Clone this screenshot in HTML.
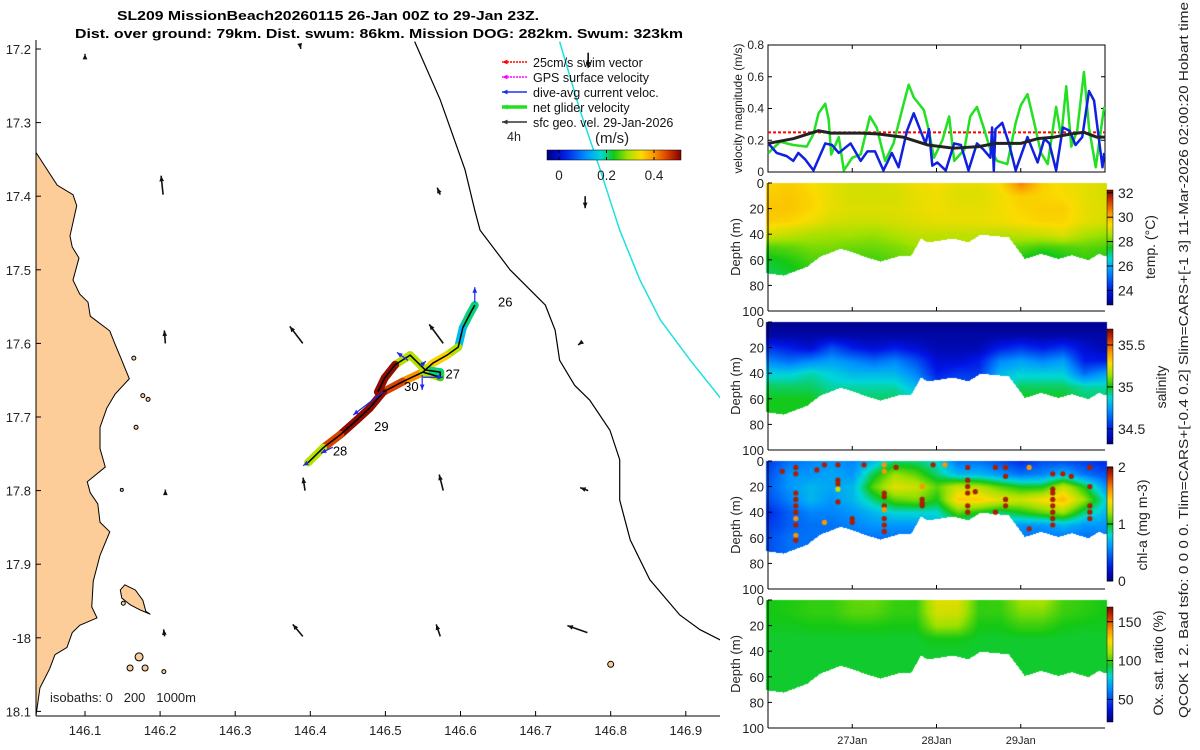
<!DOCTYPE html>
<html><head><meta charset="utf-8">
<style>
html,body{margin:0;padding:0;background:#fff;}
#wrap{position:relative;width:1200px;height:750px;overflow:hidden;font-family:"Liberation Sans",sans-serif;}
canvas,svg{position:absolute;left:0;top:0;}
</style></head>
<body>
<div id="wrap">
<canvas id="cv" width="1200" height="750"></canvas>
<svg id="sv" width="1200" height="750" xmlns="http://www.w3.org/2000/svg"></svg>
</div>
<script>
// ---------- DATA ----------
const greenT=[0.004,0.143,0.30,0.46,0.54,0.60,0.68,0.72,0.75,0.84,0.90,1.00,1.10,1.21,1.29,1.39,1.49,1.61,1.67,1.73,1.79,1.85,1.91,1.97,2.07,2.15,2.21,2.33,2.40,2.48,2.56,2.64,2.72,2.84,2.94,3.00,3.08,3.16,3.24,3.32,3.42,3.48,3.54,3.60,3.67,3.75,3.81,3.89,3.99];
const greenV=[0.12,0.19,0.17,0.16,0.24,0.37,0.43,0.33,0.11,0.22,0.01,0.09,0.11,0.35,0.28,0.07,0.18,0.43,0.55,0.47,0.43,0.39,0.26,0.09,0.20,0.35,0.07,0.14,0.35,0.41,0.28,0.14,0.07,0.05,0.31,0.42,0.49,0.31,0.12,0.05,0.41,0.22,0.54,0.16,0.26,0.63,0.28,0.03,0.41];
const blueT=[0.004,0.103,0.222,0.30,0.36,0.44,0.54,0.68,0.76,0.84,0.98,1.10,1.18,1.27,1.37,1.47,1.55,1.65,1.73,1.81,1.87,1.91,1.95,2.01,2.11,2.21,2.29,2.38,2.48,2.56,2.64,2.66,2.68,2.70,2.78,2.86,2.94,3.08,3.20,3.28,3.34,3.42,3.50,3.58,3.65,3.73,3.81,3.87,3.97,3.99];
const blueV=[0.18,0.12,0.10,0.07,0.12,0.08,0.01,0.18,0.17,0.12,0.18,0.07,0.13,0.13,0.01,0.12,0.03,0.26,0.37,0.26,0.18,0.27,0.04,0.06,0.01,0.18,0.17,0.01,0.18,0.14,0.09,0.28,0.01,0.27,0.31,0.18,0.01,0.22,0.06,0.21,0.18,0.01,0.28,0.26,0.17,0.22,0.51,0.45,0.03,0.12];
const blackT=[0,0.3,0.6,0.75,1.1,1.3,1.6,1.9,2.2,2.5,2.7,3.0,3.2,3.4,3.6,3.75,3.9,4.0];
const blackV=[0.18,0.21,0.26,0.245,0.245,0.24,0.22,0.17,0.15,0.16,0.18,0.18,0.21,0.22,0.24,0.25,0.22,0.22];
const swimRef=0.25;
const velTicks=[0,0.2,0.4,0.6,0.8];
const dayLabels=["27Jan","28Jan","29Jan"];
const dayVals=[1,2,3];
const gridT=[0,0.25,0.5,0.75,1,1.25,1.5,1.75,2,2.25,2.5,2.75,3,3.25,3.5,3.75,4];
const gridD=[0,10,20,30,40,50,60,70];
const tempG=[
[29.5,29.6,29.4,29.2,29.0,29.0,29.1,29.3,29.4,29.2,29.2,29.4,30.6,29.6,29.3,29.2,29.0],
[29.6,29.7,29.5,29.2,29.0,29.0,29.0,29.2,29.3,29.1,29.1,29.3,29.6,29.5,29.4,29.2,29.0],
[29.7,29.7,29.5,29.2,29.1,29.1,29.1,29.2,29.3,29.2,29.2,29.3,29.5,29.6,29.6,29.2,29.1],
[29.6,29.5,29.3,29.0,28.9,28.9,29.0,29.1,29.2,29.2,29.2,29.3,29.4,29.5,29.5,29.2,29.0],
[29.0,28.8,28.6,28.5,28.5,28.4,28.6,28.8,28.8,28.8,28.8,28.7,28.8,28.9,29.1,28.6,28.4],
[27.9,28.0,28.2,28.2,28.1,28.1,28.2,28.4,28.5,28.5,28.5,28.2,28.0,27.8,27.9,28.0,27.9],
[27.4,27.6,27.9,27.9,27.8,27.8,28.0,28.2,28.3,28.3,28.3,28.0,27.5,27.1,27.5,27.7,27.6],
[27.2,27.4,27.6,27.6,27.6,27.6,27.8,28.0,28.1,28.1,28.1,27.8,27.3,27.0,27.4,27.5,27.4]];
const salG=[
[34.35,34.35,34.35,34.35,34.35,34.35,34.35,34.35,34.35,34.35,34.35,34.35,34.35,34.35,34.35,34.35,34.35],
[34.38,34.38,34.38,34.38,34.38,34.38,34.38,34.38,34.38,34.38,34.38,34.38,34.38,34.38,34.38,34.38,34.38],
[34.55,34.5,34.45,34.6,34.5,34.45,34.5,34.45,34.4,34.4,34.4,34.5,34.55,34.5,34.55,34.45,34.4],
[34.7,34.65,34.7,34.75,34.7,34.65,34.7,34.6,34.45,34.45,34.5,34.7,34.75,34.7,34.75,34.5,34.5],
[34.85,34.85,34.9,34.85,34.8,34.8,34.8,34.7,34.5,34.55,34.55,34.8,34.85,34.85,34.85,34.65,34.75],
[34.95,34.95,34.95,34.9,34.9,34.9,34.9,34.8,34.6,34.6,34.6,34.85,34.95,34.95,34.95,34.9,34.9],
[35.0,35.0,35.0,34.95,34.95,34.95,34.95,34.9,34.8,34.8,34.8,34.95,35.0,35.0,35.0,34.95,34.95],
[35.0,35.0,35.0,35.0,35.0,35.0,35.0,35.0,35.0,35.0,35.0,35.0,35.0,35.0,35.0,35.0,35.0]];
const chlG=[
[0.35,0.5,0.55,0.6,0.55,0.7,0.9,0.9,0.8,0.5,0.5,0.4,0.3,0.4,0.4,0.35,0.3],
[0.4,0.6,0.6,0.65,0.6,0.95,1.2,1.1,0.9,0.7,0.7,0.6,0.5,0.55,0.7,0.5,0.4],
[0.45,0.6,0.7,0.65,0.7,1.1,1.35,1.3,1.1,1.3,1.25,1.1,1.0,1.0,1.3,1.0,0.6],
[0.4,0.55,0.7,0.6,0.7,0.9,1.1,1.15,1.0,1.45,1.45,1.35,1.3,1.4,1.5,1.2,0.8],
[0.3,0.45,0.55,0.55,0.6,0.7,0.8,0.8,0.8,1.1,1.0,0.9,1.0,1.1,1.2,0.9,0.7],
[0.35,0.45,0.5,0.5,0.55,0.6,0.6,0.6,0.7,0.8,0.8,0.7,0.6,0.6,0.7,0.6,0.6],
[0.4,0.5,0.5,0.5,0.5,0.5,0.5,0.5,0.5,0.5,0.5,0.5,0.5,0.5,0.5,0.5,0.5],
[0.4,0.5,0.5,0.5,0.5,0.5,0.5,0.5,0.5,0.5,0.5,0.5,0.5,0.5,0.5,0.5,0.5]];
const oxyG=[
[95,96,98,98,103,104,99,98,120,120,98,99,110,112,100,98,95],
[95,96,98,98,102,102,98,98,118,117,98,98,106,106,99,97,95],
[94,94,95,95,96,96,95,95,110,109,95,95,99,99,95,94,94],
[93,93,93,93,93,93,93,93,95,95,93,93,93,93,93,93,93],
[93,93,93,93,93,93,93,93,93,93,93,93,93,93,93,93,93],
[93,93,93,93,93,93,93,93,93,93,93,93,93,93,93,93,93],
[93,93,93,93,93,93,93,93,93,93,93,93,93,93,93,93,93],
[93,93,93,93,93,93,93,93,93,93,93,93,93,93,93,93,93]];
const botT=[-0.02,0.18,0.46,0.62,0.86,1.01,1.13,1.33,1.54,1.69,1.81,1.89,2.20,2.37,2.52,2.85,3.0,3.04,3.24,3.44,3.6,3.8,3.92,4.01];
const botD=[70,72,65,57,51,54,57,61,57,57,43,46,43,46,40,42,55,59,55,59,56,60,55,57];
const chlDotT=[0.33,0.33,0.33,0.33,0.33,0.33,0.33,0.33,0.33,0.33,0.17,0.58,0.67,0.67,0.83,0.83,0.83,0.83,0.83,1.0,1.0,1.14,1.38,1.38,1.38,1.38,1.38,1.38,1.38,1.38,1.38,1.52,1.83,1.83,1.83,1.83,1.96,2.1,2.37,2.37,2.37,2.37,2.37,2.37,2.46,2.7,2.7,2.82,2.82,2.82,2.82,3.1,3.1,3.38,3.38,3.38,3.38,3.38,3.38,3.38,3.38,3.5,3.6,3.82,3.82,3.82,3.82,3.82];
const chlDotD=[5,10,25,30,35,40,45,50,58,62,8,7,3,48,3,15,18,22,32,45,48,3,3,8,25,28,35,38,45,50,55,5,20,30,33,35,3,3,5,15,20,25,35,40,24,5,40,5,12,30,35,5,53,10,22,25,30,35,40,45,50,10,12,5,20,35,40,45];
const chlDotV=[1.9,1.9,1.9,1.9,1.9,1.9,1.6,1.9,1.6,1.9,1.9,1.9,1.9,1.6,1.9,1.9,1.9,1.3,1.9,1.9,1.9,1.9,1.6,1.6,1.9,1.9,1.9,1.6,1.9,1.9,1.9,1.9,1.6,1.9,1.9,1.9,1.9,1.6,1.9,1.9,1.9,1.9,1.9,1.9,1.9,1.9,1.9,1.9,1.9,1.9,1.9,1.6,1.9,1.9,1.9,1.9,1.9,1.9,1.9,1.9,1.9,1.9,1.9,1.9,1.9,1.9,1.9,1.9];
const depthTicks=[0,20,40,60,80,100];
const lonTicks=[146.1,146.2,146.3,146.4,146.5,146.6,146.7,146.8,146.9];
const latTicks=[17.2,17.3,17.4,17.5,17.6,17.7,17.8,17.9,18.0,18.1];
const latLabels=["17.2","17.3","17.4","17.5","17.6","17.7","17.8","17.9","-18","18.1"];
const coastLon=[146.035,146.063,146.084,146.089,146.080,146.083,146.092,146.084,146.093,146.104,146.107,146.133,146.140,146.147,146.159,146.140,146.129,146.120,146.120,146.127,146.103,146.107,146.117,146.120,146.133,146.120,146.111,146.109,146.116,146.093,146.083,146.076,146.060,146.053,146.040,146.035];
const coastLat=[17.341,17.385,17.398,17.413,17.454,17.469,17.484,17.514,17.533,17.544,17.563,17.583,17.601,17.618,17.648,17.669,17.688,17.714,17.743,17.768,17.788,17.803,17.818,17.843,17.856,17.888,17.923,17.958,17.973,17.983,17.993,18.013,18.023,18.042,18.068,18.104];
const bigIslLon=[146.153,146.167,146.177,146.181,146.187,146.173,146.160,146.149,146.147];
const bigIslLat=[17.928,17.935,17.949,17.964,17.968,17.962,17.955,17.946,17.935];
const islLon=[146.172,146.160,146.180,146.205,146.151,146.800,146.177,146.184,146.168,146.149,146.165];
const islLat=[18.026,18.041,18.041,18.046,17.953,18.036,17.671,17.676,17.714,17.799,17.620];
const islR=[4,3,3,2,2,3,2,2,2,1.5,2];
const iso200Lon=[146.539,146.573,146.606,146.619,146.626,146.666,146.713,146.726,146.732,146.752,146.772,146.799,146.812,146.812,146.826,146.852,146.892,146.919,146.946];
const iso200Lat=[17.190,17.269,17.364,17.419,17.446,17.500,17.548,17.582,17.623,17.657,17.677,17.718,17.758,17.813,17.867,17.921,17.969,17.989,18.003];
const iso1000Lon=[146.732,146.759,146.786,146.812,146.839,146.866,146.906,146.946];
const iso1000Lat=[17.190,17.283,17.364,17.446,17.514,17.568,17.623,17.674];
const trkLon=[146.619,146.613,146.603,146.597,146.582,146.563,146.550,146.523,146.497,146.479,146.462,146.440,146.417,146.397];
const trkLat=[17.548,17.559,17.579,17.605,17.616,17.627,17.639,17.652,17.666,17.688,17.704,17.724,17.742,17.762];
const trkSpd=[0.2,0.2,0.15,0.3,0.35,0.35,0.4,0.45,0.5,0.5,0.5,0.45,0.3,0.15];
const trk2Lon=[146.550,146.573,146.573,146.553,146.533,146.513,146.499,146.490];
const trk2Lat=[17.639,17.646,17.639,17.636,17.616,17.629,17.647,17.666];
const trk2Spd=[0.3,0.25,0.2,0.3,0.3,0.5,0.5,0.5];
const geoLon=[146.204,146.207,146.207,146.206,146.100,146.386,146.390,146.393,146.390,146.577,146.573,146.577,146.573,146.766,146.762,146.770,146.769,146.770];
const geoLat=[17.398,17.600,17.800,17.998,17.208,17.193,17.600,17.800,17.998,17.600,17.398,17.800,17.998,17.400,17.598,17.800,17.993,17.205];
const geoU=[-0.02,-0.01,0.0,-0.01,0.0,0.01,-0.13,-0.02,-0.10,-0.14,-0.03,-0.04,-0.04,0.0,-0.04,-0.08,-0.20,0.0];
const geoV=[0.19,0.13,0.01,0.07,0.01,-0.05,0.17,0.13,0.12,0.19,0.07,0.16,0.12,-0.12,-0.03,0.03,0.07,-0.15];
const daLon=[146.619,146.530,146.497,146.550,146.549,146.546,146.430,146.397];
const daLat=[17.544,17.623,17.666,17.646,17.643,17.631,17.741,17.762];
const daU=[0.0,-0.11,-0.30,0.20,0.0,0.06,-0.12,-0.05];
const daV=[0.15,0.08,-0.23,0.0,-0.15,0.05,-0.06,-0.03];
const dayMarkLabel=["26","27","30","29","28"];
const dayMarkLon=[146.650,146.580,146.525,146.485,146.430];
const dayMarkLat=[17.550,17.648,17.665,17.719,17.752];

// ---------- HELPERS ----------
const NS="http://www.w3.org/2000/svg";
const sv=document.getElementById('sv');
function mk(tag,attrs,parent){const e=document.createElementNS(NS,tag);for(const k in attrs)e.setAttribute(k,attrs[k]);(parent||sv).appendChild(e);return e;}
function txt(s,x,y,o,parent){const e=mk('text',Object.assign({x:x,y:y,'font-size':13,'font-family':'Liberation Sans, sans-serif',fill:'#222'},o||{}),parent);e.textContent=s;return e;}
const stops=[[0,[0,0,128]],[0.12,[0,20,230]],[0.3,[0,150,255]],[0.4,[0,215,215]],[0.5,[20,200,20]],[0.6,[160,225,0]],[0.7,[250,220,0]],[0.8,[250,150,0]],[0.9,[215,60,0]],[1,[128,0,0]]];
function cmap(f){f=Math.max(0,Math.min(1,f));for(let i=1;i<stops.length;i++){if(f<=stops[i][0]){const a=stops[i-1],b=stops[i];const r=(f-a[0])/(b[0]-a[0]);return a[1].map((v,j)=>Math.round(v+(b[1][j]-v)*r));}}return stops[stops.length-1][1];}
function interp1(xs,ys,x){if(x<=xs[0])return ys[0];for(let i=1;i<xs.length;i++){if(x<=xs[i]){const r=(x-xs[i-1])/(xs[i]-xs[i-1]);return ys[i-1]+(ys[i]-ys[i-1])*r;}}return ys[ys.length-1];}
function grid(G,t,d){let ti=Math.max(0,Math.min(gridT.length-2,Math.floor(t/0.25)));let rt=Math.max(0,Math.min(1,(t-gridT[ti])/0.25));let di=Math.max(0,Math.min(gridD.length-2,Math.floor(d/10)));let rd=Math.max(0,Math.min(1,(d-gridD[di])/10));
 const a=G[di][ti]+(G[di][ti+1]-G[di][ti])*rt,b=G[di+1][ti]+(G[di+1][ti+1]-G[di+1][ti])*rt;return a+(b-a)*rd;}

// ---------- RIGHT PANELS ----------
const PL=768,PR=1105;
const tx=t=>PL+(t/4)*(PR-PL);
const VT=45,VB=172;
const vy=v=>VB-(v/0.8)*(VB-VT);
const vg=mk('g',{});
mk('rect',{x:PL,y:VT,width:PR-PL,height:VB-VT,fill:'none',stroke:'#000','stroke-width':1},vg);
velTicks.forEach(v=>{mk('line',{x1:PL,x2:PL+4,y1:vy(v),y2:vy(v),stroke:'#000'},vg);mk('line',{x1:PR,x2:PR-4,y1:vy(v),y2:vy(v),stroke:'#000'},vg);const t=txt(String(v),PL-4,vy(v)+4,{'text-anchor':'end','font-size':12},vg);});
dayVals.forEach(d=>{mk('line',{x1:tx(d),x2:tx(d),y1:VB,y2:VB-4,stroke:'#000'},vg);mk('line',{x1:tx(d),x2:tx(d),y1:VT,y2:VT+4,stroke:'#000'},vg);});
const vlab=txt('velocity magnitude (m/s)',0,0,{'text-anchor':'middle','font-size':12,transform:`translate(742,${(VT+VB)/2}) rotate(-90)`},vg);

const sw=mk('line',{x1:PL,x2:PR,y1:vy(swimRef),y2:vy(swimRef),stroke:'#f00','stroke-width':2,'stroke-dasharray':'3,2'},vg);

function series(T,V,col,w,name){const p=mk('polyline',{points:T.map((t,i)=>tx(t)+','+vy(V[i])).join(' '),fill:'none',stroke:col,'stroke-width':w,'stroke-linejoin':'round'},vg);}
series(greenT,greenV,'#22e022',2.5,'net-glider-velocity-line');
series(blueT,blueV,'#1020e0',2.5,'dive-avg-current-line');
series(blackT,blackV,'#222',3,'sfc-geo-velocity-line');

const panels=[
 {top:183,G:tempG,lo:22.8,hi:32.23,cbT:190,cbB:305,ticks:[24,26,28,30,32],lab:'temp. (°C)',lx:1150,ly:247,name:'temperature'},
 {top:322,G:salG,lo:34.32,hi:35.69,cbT:329,cbB:444,ticks:[34.5,35,35.5],lab:'salinity',lx:1161,ly:387,name:'salinity'},
 {top:461,G:chlG,lo:0,hi:2,cbT:467,cbB:581,ticks:[0,1,2],lab:'chl-a (mg m-3)',lx:1142,ly:525,name:'chlorophyll'},
 {top:600,G:oxyG,lo:21,hi:169,cbT:607,cbB:722,ticks:[50,100,150],lab:'Ox. sat. ratio (%)',lx:1158,ly:663,name:'oxygen'}];
const PH=128;
const cv=document.getElementById('cv');const ctx=cv.getContext('2d');
const img=ctx.createImageData(1200,750);
panels.forEach(P=>{
 for(let x=766;x<=1106;x++){const t=(x-PL)/(PR-PL)*4;const bd=interp1(botT,botD,t);
  for(let y=P.top;y<P.top+PH;y++){const d=(y-P.top)/PH*100;if(d>bd)break;
   const v=grid(P.G,Math.max(0,Math.min(4,t)),d);const c=cmap((v-P.lo)/(P.hi-P.lo));const k=(y*1200+x)*4;img.data[k]=c[0];img.data[k+1]=c[1];img.data[k+2]=c[2];img.data[k+3]=255;}}
});
ctx.putImageData(img,0,0);
chlDotT.forEach((t,i)=>{const c=cmap(chlDotV[i]/2);ctx.fillStyle=`rgb(${c[0]},${c[1]},${c[2]})`;ctx.beginPath();ctx.arc(tx(t),461+chlDotD[i]/100*PH,2.6,0,7);ctx.fill();});

panels.forEach(P=>{
 const g=mk('g',{});
 const dy=d=>P.top+d/100*PH;
 mk('line',{x1:PL,x2:PL,y1:P.top,y2:P.top+PH,stroke:'#000'},g);
 mk('line',{x1:PL,x2:PR,y1:P.top+PH,y2:P.top+PH,stroke:'#000'},g);
 depthTicks.forEach(d=>{mk('line',{x1:PL,x2:PL+4,y1:dy(d),y2:dy(d),stroke:'#000'},g);const t=txt(String(d),PL-4,dy(d)+5,{'text-anchor':'end','font-size':13},g);});
 dayVals.forEach(d=>mk('line',{x1:tx(d),x2:tx(d),y1:P.top+PH,y2:P.top+PH-4,stroke:'#000'},g));
 const yl=txt('Depth (m)',0,0,{'text-anchor':'middle','font-size':13,transform:`translate(740,${P.top+PH/2}) rotate(-90)`},g);
 
 const gid='cb'+P.name;const lg=mk('linearGradient',{id:gid,x1:0,y1:1,x2:0,y2:0},g);
 for(let i=0;i<=20;i++){const c=cmap(i/20);mk('stop',{offset:i/20,'stop-color':`rgb(${c})`},lg);}
 const cb=mk('rect',{x:1107,y:P.cbT,width:6,height:P.cbB-P.cbT,fill:`url(#${gid})`,stroke:'#000','stroke-width':0.5},g);
 
 P.ticks.forEach(v=>{const y=P.cbB-(v-P.lo)/(P.hi-P.lo)*(P.cbB-P.cbT);mk('line',{x1:1107,x2:1113,y1:y,y2:y,stroke:'#000'},g);const t=txt(String(v),1118,y+5,{'font-size':14},g);});
 const cl=txt(P.lab,0,0,{'text-anchor':'middle','font-size':14,transform:`translate(${P.lx+5},${P.ly}) rotate(-90)`},g);
 
});
dayVals.forEach((d,i)=>{const t=txt(dayLabels[i],tx(d),744,{'text-anchor':'middle','font-size':11});});
const side=txt('QCOK 1  2. Bad tsfo: 0  0  0  0. Tlim=CARS+[-0.4 0.2] Slim=CARS+[-1 3] 11-Mar-2026 02:00:20 Hobart time',0,0,{'font-size':13,textLength:716,lengthAdjust:'spacingAndGlyphs',transform:'translate(1188,718) rotate(-90)'});


// ---------- MAP ----------
const mx=lon=>85+(lon-146.1)*751;
const my=lat=>49+(lat-17.2)*736;
const ML=36,MR=720,MT=40,MB=716;
mk('clipPath',{id:'mclip'}).appendChild(document.createElementNS(NS,'rect'));
const cr=sv.querySelector('#mclip rect');cr.setAttribute('x',ML);cr.setAttribute('y',MT);cr.setAttribute('width',MR-ML);cr.setAttribute('height',MB-MT);
const mg=mk('g',{'clip-path':'url(#mclip)'});
const land=mk('polygon',{points:coastLon.map((l,i)=>mx(l)+','+my(coastLat[i])).join(' ')+` ${ML},${MB} ${ML},${my(coastLat[0])}`,fill:'#fccc99',stroke:'#000','stroke-width':1},mg);

const bi=mk('polygon',{points:bigIslLon.map((l,i)=>mx(l)+','+my(bigIslLat[i])).join(' '),fill:'#fccc99',stroke:'#000','stroke-width':1},mg);

islLon.forEach((l,i)=>{const c=mk('circle',{cx:mx(l),cy:my(islLat[i]),r:islR[i],fill:'#fccc99',stroke:'#000','stroke-width':1},mg);});
const i2=mk('polyline',{points:iso200Lon.map((l,i)=>mx(l)+','+my(iso200Lat[i])).join(' '),fill:'none',stroke:'#000','stroke-width':1.2},mg);

const i1=mk('polyline',{points:iso1000Lon.map((l,i)=>mx(l)+','+my(iso1000Lat[i])).join(' '),fill:'none',stroke:'#20e0e0','stroke-width':1.5},mg);

function arrow(x1,y1,x2,y2,col,w,parent,hs){const g=mk('g',{},parent);mk('line',{x1,y1,x2,y2,stroke:col,'stroke-width':w},g);const a=Math.atan2(y2-y1,x2-x1),h=hs||6;
 mk('polygon',{points:`${x2},${y2} ${x2-h*Math.cos(a-0.4)},${y2-h*Math.sin(a-0.4)} ${x2-h*Math.cos(a+0.4)},${y2-h*Math.sin(a+0.4)}`,fill:col},g);return g;}
geoLon.forEach((l,i)=>{const x=mx(l),y=my(geoLat[i]);const a=arrow(x,y,x+geoU[i]*100,y-geoV[i]*100,'#111',1.6,mg,6);});
function track(L,A,S,name){for(let i=0;i<L.length-1;i++){const c=cmap((S[i]+0.05)/0.56);const s=mk('line',{x1:mx(L[i]),y1:my(A[i]),x2:mx(L[i+1]),y2:my(A[i+1]),stroke:`rgb(${c})`,'stroke-width':8,'stroke-linecap':'round'},mg);}}
track(trkLon,trkLat,trkSpd,'track-speed');
track(trk2Lon,trk2Lat,trk2Spd,'track-speed');
const bl=mk('polyline',{points:trkLon.map((l,i)=>mx(l)+','+my(trkLat[i])).join(' '),fill:'none',stroke:'#000','stroke-width':1.5},mg);

const bl2=mk('polyline',{points:trk2Lon.map((l,i)=>mx(l)+','+my(trk2Lat[i])).join(' '),fill:'none',stroke:'#000','stroke-width':1.5},mg);

daLon.forEach((l,i)=>{const x=mx(l),y=my(daLat[i]);const a=arrow(x,y,x+daU[i]*100,y-daV[i]*100,'#1a2af0',1.2,mg,6);});
dayMarkLabel.forEach((s,i)=>{const t=txt(s,mx(dayMarkLon[i]),my(dayMarkLat[i]),{'font-size':13,fill:'#000'},mg);});
mk('line',{x1:ML,x2:ML,y1:MT,y2:MB,stroke:'#000'});
mk('line',{x1:ML,x2:MR,y1:MB,y2:MB,stroke:'#000'});
latTicks.forEach((v,i)=>{mk('line',{x1:ML,x2:ML+5,y1:my(v),y2:my(v),stroke:'#000'});const t=txt(latLabels[i],31,my(v)+5,{'text-anchor':'end','font-size':13});});
lonTicks.forEach(v=>{mk('line',{x1:mx(v),x2:mx(v),y1:MB,y2:MB-5,stroke:'#000'});const t=txt(v.toFixed(1),mx(v),735,{'text-anchor':'middle','font-size':13});});
const iso=txt('isobaths: 0   200   1000m',50,702,{'font-size':13,style:'white-space:pre'});
const t1=txt('SL209 MissionBeach20260115 26-Jan 00Z to 29-Jan 23Z.',117,20,{'font-size':13,'font-weight':'bold',fill:'#000',textLength:422,lengthAdjust:'spacingAndGlyphs'});
const t2=txt('Dist. over ground: 79km. Dist. swum: 86km. Mission DOG: 282km. Swum: 323km',75,38,{'font-size':13,'font-weight':'bold',fill:'#000',textLength:608,lengthAdjust:'spacingAndGlyphs'});
const lgd=mk('g',{});
const legText=['25cm/s swim vector','GPS surface velocity','dive-avg current veloc.','net glider velocity','sfc geo. vel. 29-Jan-2026'];
const legCol=['#f00','#f0f','#2030f0','#20e020','#333'];
const legW=[1.5,1.5,1.5,3.5,1.5];
legText.forEach((s,i)=>{const y=62+i*15;const a=arrow(527,y,502,y,legCol[i],legW[i],lgd,6);if(i<2)a.querySelector('line').setAttribute('stroke-dasharray','2,1');const t=txt(s,533,y+5,{'font-size':12.5,fill:'#111'},lgd);});
txt('4h',507,141,{'font-size':12.5},lgd);
txt('(m/s)',595,143,{'font-size':15},lgd);
const lg2=mk('linearGradient',{id:'trkcb',x1:0,y1:0,x2:1,y2:0},lgd);
for(let i=0;i<=20;i++){const c=cmap(i/20);mk('stop',{offset:i/20,'stop-color':`rgb(${c})`},lg2);}
const tcb=mk('rect',{x:547,y:150,width:134,height:10,fill:'url(#trkcb)',stroke:'#000','stroke-width':0.5},lgd);

[0,0.2,0.4].forEach(v=>{const x=559+v/0.2*47.5;mk('line',{x1:x,x2:x,y1:150,y2:153,stroke:'#000'},lgd);mk('line',{x1:x,x2:x,y1:160,y2:157,stroke:'#000'},lgd);const t=txt(String(v),x,180,{'text-anchor':'middle','font-size':13.5},lgd);});
</script>
</body></html>
